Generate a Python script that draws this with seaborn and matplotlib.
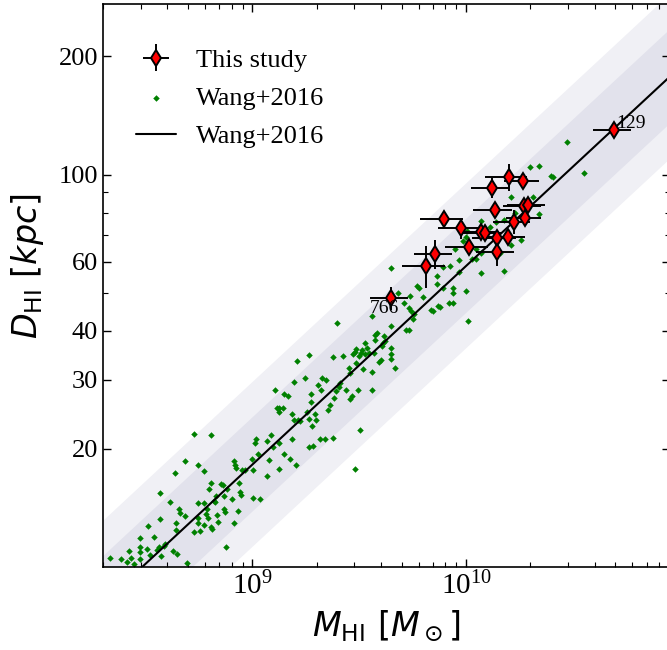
import numpy as np
import matplotlib
matplotlib.use("Agg")
import matplotlib.pyplot as plt
import seaborn as sns
from matplotlib.ticker import ScalarFormatter, NullFormatter

# HI size-mass relation (Wang et al. 2016): log D = slope * log M + intercept
slope = 0.506
intercept = -3.293
band_inner = 0.12   # dex
band_outer = 0.21   # dex

# Wang+2016 sample: log10 M_HI [Msun], log10 D_HI [kpc]
wang_log_mhi = [
    8.334, 8.386, 8.412, 8.433, 8.425, 8.444, 8.475, 8.475, 8.475, 8.475,
    8.506, 8.522, 8.514, 8.542, 8.555, 8.561, 8.566, 8.566, 8.572, 8.585,
    8.592, 8.613, 8.627, 8.636, 8.644, 8.644, 8.647, 8.655, 8.663, 8.683,
    8.686, 8.694, 8.725, 8.725, 8.744, 8.744, 8.746, 8.746, 8.754, 8.774,
    8.775, 8.775, 8.783, 8.788, 8.793, 8.796, 8.805, 8.805, 8.807, 8.813,
    8.819, 8.824, 8.832, 8.835, 8.840, 8.851, 8.863, 8.865, 8.868, 8.874,
    8.876, 8.883, 8.905, 8.913, 8.915, 8.919, 8.924, 8.933, 8.937, 8.944,
    8.948, 8.952, 8.965, 8.996, 9.005, 9.005, 9.013, 9.016, 9.026, 9.037,
    9.067, 9.070, 9.076, 9.088, 9.096, 9.107, 9.113, 9.123, 9.124, 9.126,
    9.126, 9.142, 9.146, 9.146, 9.167, 9.176, 9.184, 9.185, 9.196, 9.195,
    9.206, 9.207, 9.215, 9.223, 9.246, 9.257, 9.264, 9.265, 9.265, 9.275,
    9.276, 9.278, 9.286, 9.293, 9.297, 9.308, 9.315, 9.323, 9.328, 9.339,
    9.345, 9.356, 9.361, 9.376, 9.376, 9.384, 9.390, 9.397, 9.405, 9.412,
    9.422, 9.437, 9.453, 9.456, 9.459, 9.466, 9.469, 9.478, 9.478, 9.483,
    9.487, 9.495, 9.498, 9.506, 9.509, 9.514, 9.516, 9.527, 9.527, 9.536,
    9.544, 9.558, 9.558, 9.559, 9.570, 9.575, 9.575, 9.584, 9.594, 9.602,
    9.608, 9.610, 9.614, 9.622, 9.647, 9.647, 9.650, 9.650, 9.669,
    10.470, 10.301, 10.340, 10.397, 10.405, 10.552, 10.209, 10.311, 10.342, 10.228,
    10.176, 10.142, 10.069, 10.110, 10.004, 10.001, 9.987, 10.259, 10.209, 9.949,
    10.048, 10.071, 10.157, 10.026, 10.045, 9.967, 9.923, 9.894, 9.966, 10.069,
    10.179, 9.863, 9.865, 9.769, 9.778, 9.891, 9.938, 9.738, 9.797, 9.938,
    9.998, 10.010, 9.870, 9.837, 9.847, 9.876, 9.918, 9.941, 9.711, 9.735,
    9.743, 9.758, 9.750, 9.719, 9.731, 9.680, 9.649,
]
wang_log_dhi = [
    1.022, 1.020, 1.013, 1.022, 1.041, 1.007, 1.021, 1.037, 1.052, 1.073,
    1.047, 1.030, 1.104, 1.077, 1.044, 1.051, 1.188, 1.123, 1.028, 1.054,
    1.058, 1.165, 1.041, 1.240, 1.112, 1.094, 1.033, 1.147, 1.137, 1.130,
    1.270, 1.010, 1.338, 1.090, 1.259, 1.162, 1.126, 1.111, 1.092, 1.244,
    1.163, 1.107, 1.134, 1.147, 1.124, 1.198, 1.337, 1.215, 1.102, 1.097,
    1.168, 1.165, 1.182, 1.132, 1.115, 1.211, 1.209, 1.180, 1.149, 1.139,
    1.050, 1.199, 1.173, 1.269, 1.111, 1.260, 1.252, 1.143, 1.213, 1.191,
    1.183, 1.247, 1.248, 1.274, 1.247, 1.175, 1.316, 1.326, 1.288, 1.174,
    1.231, 1.321, 1.273, 1.336, 1.305, 1.451, 1.405, 1.405, 1.395, 1.249,
    1.316, 1.404, 1.287, 1.440, 1.436, 1.276, 1.390, 1.325, 1.472, 1.374,
    1.260, 1.525, 1.374, 1.373, 1.482, 1.396, 1.540, 1.306, 1.377, 1.420,
    1.442, 1.359, 1.308, 1.390, 1.375, 1.464, 1.326, 1.450, 1.481, 1.327,
    1.476, 1.400, 1.413, 1.536, 1.328, 1.431, 1.448, 1.622, 1.459, 1.469,
    1.538, 1.450, 1.508, 1.494, 1.428, 1.436, 1.542, 1.250, 1.547, 1.520,
    1.555, 1.450, 1.538, 1.350, 1.544, 1.553, 1.504, 1.570, 1.542, 1.559,
    1.545, 1.497, 1.452, 1.640, 1.544, 1.590, 1.579, 1.597, 1.522, 1.527,
    1.562, 1.570, 1.588, 1.575, 1.542, 1.529, 1.615, 1.559, 1.508,
    2.082, 2.020, 2.022, 1.995, 1.993, 2.003, 1.942, 1.944, 1.900, 1.902,
    1.885, 1.878, 1.881, 1.867, 1.855, 1.840, 1.830, 1.833, 1.821, 1.810,
    1.810, 1.800, 1.801, 1.784, 1.784, 1.781, 1.768, 1.765, 1.752, 1.749,
    1.753, 1.742, 1.721, 1.716, 1.711, 1.712, 1.712, 1.691, 1.687, 1.697,
    1.702, 1.626, 1.664, 1.656, 1.651, 1.663, 1.672, 1.672, 1.672, 1.661,
    1.653, 1.645, 1.632, 1.604, 1.605, 1.698, 1.762,
]

# This study: M_HI [1e9 Msun], D_HI [kpc] with errors
study_ids = ["", "", "", "", "", "", "", "", "", "",
             "", "", "", "", "", "", "", "", "766", "129"]
study_mhi = [15.8, 18.5, 13.2, 13.6, 18.6, 19.4, 7.87, 16.7, 18.9, 9.42,
             11.7, 12.2, 13.9, 15.7, 10.3, 13.9, 7.15, 6.50, 4.47, 49.3]
study_mhi_err = [3.5, 3.5, 2.6, 2.8, 3.7, 3.9, 1.8, 3.3, 3.6, 2.0,
                 2.5, 2.6, 3.2, 3.1, 2.3, 2.8, 1.45, 1.5, 0.9, 10.0]
study_dhi = [98.4, 96.1, 92.5, 81.3, 83.1, 83.4, 77.2, 75.9, 77.4, 73.0,
             71.2, 70.8, 68.8, 69.2, 65.5, 63.6, 62.8, 58.6, 48.5, 130.0]
study_dhi_err = [7.7, 2.8, 5.4, 3.3, 2.0, 2.0, 3.2, 5.3, 2.3, 4.6,
                 2.0, 2.0, 3.0, 3.0, 2.3, 5.0, 5.5, 7.1, 3.3, 1.0]

x_limits = (2e8, 9e10)
y_limits = (10, 272)
y_major = [20, 30, 40, 60, 100, 200]

sns.set_style("ticks")
plt.rcParams["font.family"] = ["Liberation Serif", "DejaVu Serif"]
plt.rcParams["mathtext.fontset"] = "dejavusans"
for key in ("text.color", "axes.labelcolor", "xtick.color", "ytick.color",
            "axes.edgecolor"):
    plt.rcParams[key] = "black"

fig = plt.figure(figsize=(6.67, 6.5), dpi=100)
ax = fig.add_axes([0.1544, 0.1277, 0.8501, 0.8662])
ax.set_xscale("log")
ax.set_yscale("log")

# relation with scatter bands
mgrid = np.logspace(np.log10(x_limits[0]) - 0.1, np.log10(x_limits[1]) + 0.1, 200)
log_rel = slope * np.log10(mgrid) + intercept
ax.fill_between(mgrid, 10 ** (log_rel - band_outer), 10 ** (log_rel + band_outer),
                color="#f0f0f5", lw=0, zorder=0)
ax.fill_between(mgrid, 10 ** (log_rel - band_inner), 10 ** (log_rel + band_inner),
                color="#e2e2ec", lw=0, zorder=0.5)

sns.scatterplot(x=10 ** np.array(wang_log_mhi), y=10 ** np.array(wang_log_dhi),
                ax=ax, marker="D", s=11, color="green", linewidth=0,
                label="Wang+2016", zorder=2)
sns.lineplot(x=mgrid, y=10 ** log_rel, ax=ax, color="black", lw=1.5,
             label="Wang+2016", zorder=3)

m = np.array(study_mhi) * 1e9
merr = np.array(study_mhi_err) * 1e9
eb = ax.errorbar(m, study_dhi, xerr=merr, yerr=study_dhi_err, fmt="d",
                 ms=8, mfc="red", mec="black", mew=1.4, ecolor="black",
                 elinewidth=1.4, capsize=0, zorder=4, label="This study")

offsets = {"766": (-5, -8), "129": (12, 4.5)}
for name, mx, dy in zip(study_ids, m, study_dhi):
    if name:
        ax.annotate(name, (mx, dy), xytext=offsets[name], textcoords="offset points",
                    ha="center", va="center", fontsize=14, color="black", zorder=5)

ax.set_xlim(*x_limits)
ax.set_ylim(*y_limits)
ax.set_yticks(y_major)
ax.yaxis.set_major_formatter(ScalarFormatter())
ax.yaxis.set_minor_formatter(NullFormatter())
ax.tick_params(which="both", direction="in", top=True, right=True,
               color="black", labelcolor="black")
ax.tick_params(axis="y", labelsize=19)
ax.tick_params(axis="x", labelsize=21)
ax.tick_params(which="major", length=6, width=1)
ax.tick_params(which="minor", length=3.5, width=0.8)
for s in ax.spines.values():
    s.set_linewidth(1.2)
    s.set_color("black")

ax.set_xlabel(r"$M_{\rm HI}\ [M_\odot]$", fontsize=24, labelpad=6, color="black")
ax.set_ylabel(r"$D_{\rm HI}\ [kpc]$", fontsize=24, color="black")
ax.yaxis.set_label_coords(-0.1, 0.535)

handles, labels = ax.get_legend_handles_labels()
order = [labels.index("This study"), 0, 1]
leg = ax.legend([handles[i] for i in order], [labels[i] for i in order],
                loc="upper left", bbox_to_anchor=(0.04, 0.94), borderaxespad=0,
                frameon=False, fontsize=19, handlelength=1.5, handletextpad=0.75,
                labelspacing=0.55)
for t in leg.get_texts():
    t.set_color("black")

fig.savefig("out.png", dpi=100)
